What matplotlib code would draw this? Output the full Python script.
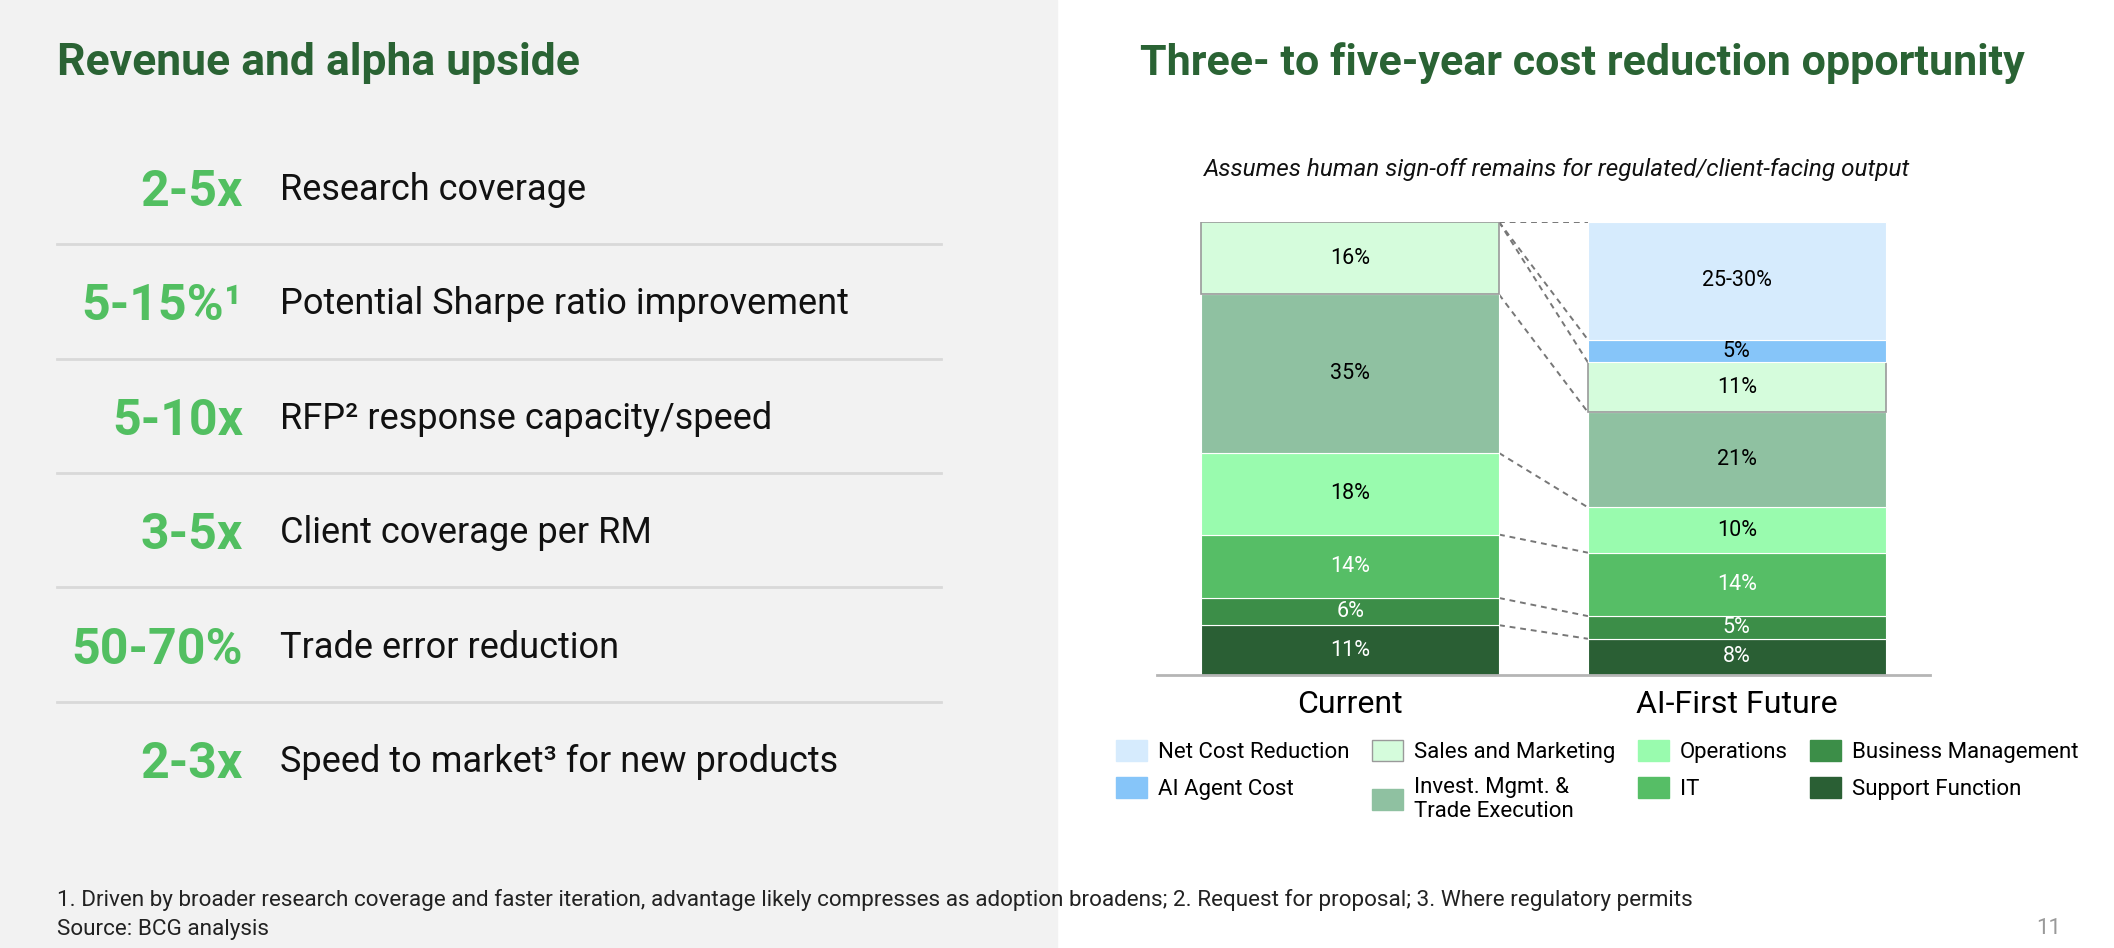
import matplotlib
matplotlib.use("Agg")
import matplotlib.pyplot as plt
from matplotlib.patches import Patch, Rectangle
import numpy as np

plt.rcParams['font.family'] = ['Roboto', 'DejaVu Sans']

# left panel data
kpi_values = ['2-5x', '5-15%¹', '5-10x', '3-5x', '50-70%', '2-3x']
kpi_labels = ['Research coverage', 'Potential Sharpe ratio improvement',
              'RFP² response capacity/speed', 'Client coverage per RM',
              'Trade error reduction', 'Speed to market³ for new products']

# right panel data (bottom to top)
categories = ['Current', 'AI-First Future']
segments = ['Support Function', 'Business Management', 'IT', 'Operations',
            'Invest. Mgmt. &\nTrade Execution', 'Sales and Marketing',
            'AI Agent Cost', 'Net Cost Reduction']
current = [11, 6, 14, 18, 35, 16, 0, 0]
future = [8, 5, 14, 10, 21, 11, 5, 26]
current_labels = ['11%', '6%', '14%', '18%', '35%', '16%', '', '']
future_labels = ['8%', '5%', '14%', '10%', '21%', '11%', '5%', '25-30%']
colors = ['#2a5f34', '#3c8e48', '#56be66', '#99fbae', '#8fc1a1', '#d5fcdc',
          '#86c5f9', '#d6ebfd']
text_colors = ['white', 'white', 'white', 'black', 'black', 'black', 'black', 'black']

DARK_GREEN = '#2a6334'
KPI_GREEN = '#52bf61'

fig = plt.figure(figsize=(21.14, 9.48), dpi=100)

# background / page axis in pixel units
bg = fig.add_axes([0, 0, 1, 1])
bg.set_xlim(0, 2114)
bg.set_ylim(948, 0)
bg.axis('off')
bg.add_patch(Rectangle((0, 0), 1057, 948, color='#f2f2f2', zorder=0))

bg.text(57, 63, 'Revenue and alpha upside', fontsize=32, fontweight='bold',
        color=DARK_GREEN, va='center', ha='left')

row_y = 187
row_step = 114.4
for i, (v, lab) in enumerate(zip(kpi_values, kpi_labels)):
    y = row_y + i * row_step
    bg.text(243, y + 19, v, fontsize=36, fontweight='bold', color=KPI_GREEN,
            ha='right', va='baseline')
    bg.text(280, y + 13, lab, fontsize=26, color='#111111', ha='left', va='baseline')
    if i < len(kpi_values) - 1:
        bg.plot([57, 941], [y + row_step / 2] * 2, color='#d9d9d9', lw=2)

bg.text(57, 900, '1. Driven by broader research coverage and faster iteration, advantage likely '
        'compresses as adoption broadens; 2. Request for proposal; 3. Where regulatory permits',
        fontsize=16.2, color='#222222', va='center')
bg.text(57, 929, 'Source: BCG analysis', fontsize=16.2, color='#222222', va='center')
bg.text(2036, 929, '11', fontsize=16, color='#999999', va='center')

bg.text(1582, 63, 'Three- to five-year cost reduction opportunity', fontsize=31,
        fontweight='bold', color=DARK_GREEN, va='center', ha='center')
bg.text(1557, 169, 'Assumes human sign-off remains for regulated/client-facing output',
        fontsize=17.5, style='italic', color='#111111', va='center', ha='center')

# stacked bar chart
ax = fig.add_axes([1157 / 2114, 1 - 675 / 948, 773 / 2114, 453 / 948])
ax.patch.set_alpha(0)
w = 0.77
x = np.arange(len(categories))
bottom_c = 0
bottom_f = 0
for i, seg in enumerate(segments):
    edge = '#9a9a9a' if seg == 'Sales and Marketing' else 'white'
    lw = 1.2 if seg == 'Sales and Marketing' else 0.8
    if current[i] > 0:
        ax.bar(x[0], current[i], w, bottom=bottom_c, color=colors[i], edgecolor=edge, lw=lw)
        ax.text(x[0], bottom_c + current[i] / 2, current_labels[i], ha='center', va='center',
                fontsize=15.5, color=text_colors[i])
    ax.bar(x[1], future[i], w, bottom=bottom_f, color=colors[i], edgecolor=edge, lw=lw)
    ax.text(x[1], bottom_f + future[i] / 2, future_labels[i], ha='center', va='center',
            fontsize=15.5, color=text_colors[i])
    bottom_c += current[i]
    bottom_f += future[i]

# connector lines between segment tops
cum_c = np.cumsum(current)
cum_f = np.cumsum(future)
for yc, yf in zip(cum_c, cum_f):
    ax.plot([x[0] + w / 2, x[1] - w / 2], [yc, yf], color='#777777', lw=1.4,
            ls=(0, (3, 2.5)), zorder=0)

ax.set_xlim(-0.5, 1.5)
ax.set_ylim(0, 100)
ax.set_xticks(x)
ax.set_xticklabels(categories, fontsize=23)
ax.tick_params(axis='x', length=0, pad=11)
ax.set_yticks([])
for s in ['top', 'right', 'left']:
    ax.spines[s].set_visible(False)
ax.spines['bottom'].set_color('#b5b5b5')
ax.spines['bottom'].set_linewidth(2)

# legend (column order top-left to bottom-right)
order = [7, 6, 5, 4, 3, 2, 1, 0]
handles = []
for i in order:
    edge = '#9a9a9a' if segments[i] == 'Sales and Marketing' else colors[i]
    handles.append(Patch(facecolor=colors[i], edgecolor=edge, label=segments[i]))
fig.legend(handles=handles, ncol=4, loc='upper left',
           bbox_to_anchor=(1116 / 2114, 1 - 740 / 948), frameon=False,
           fontsize=16, handlelength=1.4, handleheight=1.1, handletextpad=0.5,
           columnspacing=1.0, labelspacing=0.6, borderpad=0, borderaxespad=0)

fig.savefig('out.png', dpi=100)
